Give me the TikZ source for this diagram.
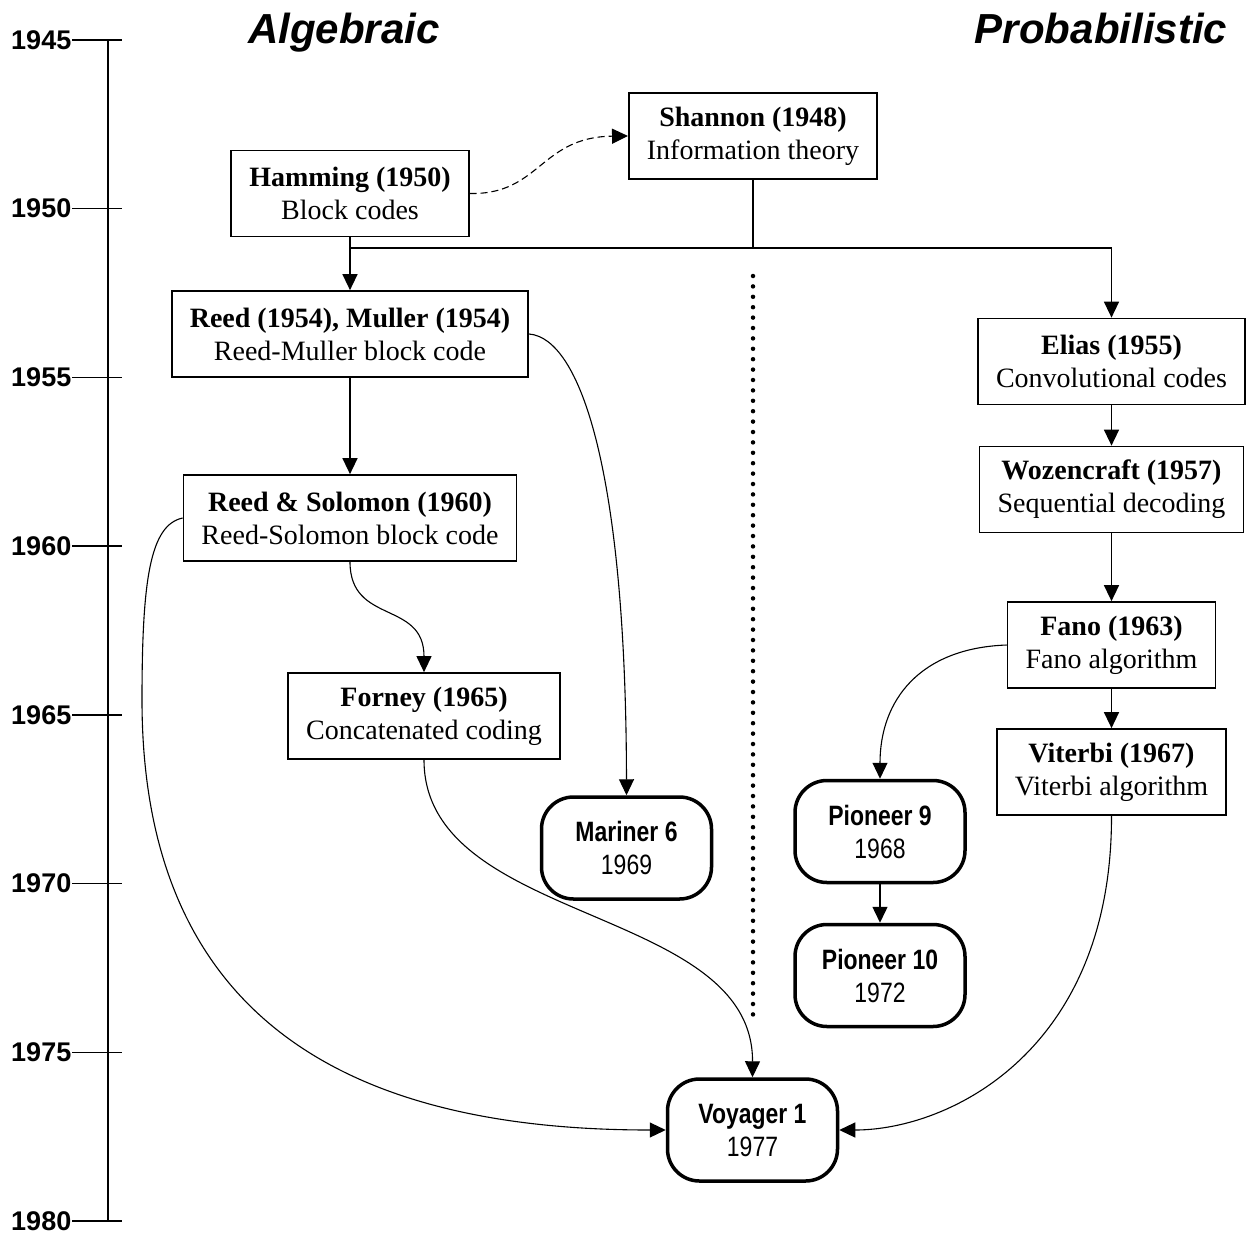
\documentclass[tikz,border=0pt]{standalone}
\usepackage{fontspec}
\setmainfont{Liberation Serif}
\setsansfont{Liberation Sans}
\newfontfamily\craftfont[FakeStretch=0.82]{Liberation Sans}
\usetikzlibrary{arrows.meta}

\begin{document}
\begin{tikzpicture}[x=1pt,y=-1pt]
  \tikzstyle{paper}=[draw,line width=1.7pt,align=center,inner xsep=18pt,minimum height=86pt,font=\fontsize{28}{33}\selectfont]
  \tikzstyle{craft}=[draw,line width=3.5pt,rounded corners=32pt,align=center,minimum width=170pt,minimum height=102pt,font=\craftfont\fontsize{28}{33}\selectfont]
  \tikzstyle{link}=[-{Triangle[length=16pt,width=15pt]},line width=1.4pt]
  \tikzstyle{curvelink}=[link,line width=1.1pt]
  \tikzstyle{year}=[anchor=east,inner sep=0pt,font=\sffamily\bfseries\fontsize{27}{30}\selectfont]
  \tikzstyle{school}=[anchor=base,inner sep=0pt,font=\sffamily\bfseries\itshape\fontsize{42}{50}\selectfont]
  \useasboundingbox (0,0) rectangle (1247,1239);
  % time axis
  \draw[line width=1.4pt] (108,40) -- (108,1221);
  \foreach \yr [count=\i from 0] in {1945,1950,...,1980}
    \draw[line width=1.4pt] (72,40+168.7*\i) node[year] {\yr} -- (122,40+168.7*\i);
  % headings
  \node[school] (alg) at (344,44) {Algebraic};
  \node[school] (prob) at (1101,44) {Probabilistic};
  % papers
  \node[paper] (shan) at (753,136) {\textbf{Shannon (1948)}\\Information theory};
  \node[paper] (ham) at (350,193.5) {\textbf{Hamming (1950)}\\Block codes};
  \node[paper] (rm) at (350,334) {\textbf{Reed (1954), Muller (1954)}\\Reed-Muller block code};
  \node[paper] (rs) at (350,518) {\textbf{Reed \& Solomon (1960)}\\Reed-Solomon block code};
  \node[paper] (forn) at (424,716) {\textbf{Forney (1965)}\\Concatenated coding};
  \node[paper] (elias) at (1111.5,361.5) {\textbf{Elias (1955)}\\Convolutional codes};
  \node[paper] (woz) at (1111.5,489.5) {\textbf{Wozencraft (1957)}\\Sequential decoding};
  \node[paper] (fano) at (1111.5,645) {\textbf{Fano (1963)}\\Fano algorithm};
  \node[paper] (vit) at (1111.5,772) {\textbf{Viterbi (1967)}\\Viterbi algorithm};
  % spacecraft
  \node[craft] (mar) at (626.5,848) {\textbf{Mariner 6}\\1969};
  \node[craft] (pio9) at (880,831.5) {\textbf{Pioneer 9}\\1968};
  \node[craft] (pio10) at (880,975.5) {\textbf{Pioneer 10}\\1972};
  \node[craft] (voy) at (752.5,1130) {\textbf{Voyager 1}\\1977};
  % divider
  \draw[line width=4.5pt,line cap=round,dash pattern=on 0pt off 10.4pt] (753,276) -- (753,1020);
  % links
  \coordinate (split) at (753,248);
  \coordinate (dip) at (142,700);
  \draw[line width=1.4pt] (shan.south) -- (split);
  \draw[link] (ham.south) -- (rm.north);
  \draw[link] (ham.south |- split) -| (elias.north);
  \draw[curvelink,dash pattern=on 7pt off 4pt] (ham.east) .. controls (540,195) and (540,137) .. (shan.west);
  \draw[link] (rm.south) -- (rs.north);
  \draw[curvelink] (rm.east) .. controls (580,338) and (626,470) .. (mar.north);
  \draw[curvelink] (rs.west) .. controls (150,525) and (142,580) .. (dip) .. controls (142,1055) and (400,1130) .. (voy.west);
  \draw[curvelink] (rs.south) .. controls (350,625) and (424,600) .. (forn.north);
  \draw[curvelink] (forn.south) .. controls (424,925) and (753,905) .. (voy.north);
  \draw[link] (elias.south) -- (woz.north);
  \draw[link] (woz.south) -- (fano.north);
  \draw[link] (fano.south) -- (vit.north);
  \draw[curvelink] (fano.west) .. controls (920,648) and (880,700) .. (pio9.north);
  \draw[link] (pio9.south) -- (pio10.north);
  \draw[curvelink] (vit.south) .. controls (1112,1050) and (950,1130) .. (voy.east);
\end{tikzpicture}
\end{document}
